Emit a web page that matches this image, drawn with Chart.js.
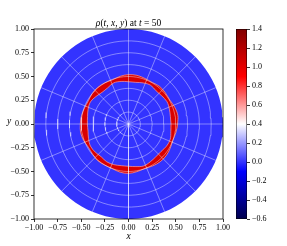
<!DOCTYPE html>
<html>
<head>
<meta charset="utf-8">
<script src="https://cdn.jsdelivr.net/npm/chart.js@4"></script>
<style>
  html, body { margin: 0; padding: 0; background: #fff; }
  #wrap { position: relative; width: 287px; height: 246px; }
  canvas { position: absolute; top: 0; }
  #main { left: 0; }
  #cbar { left: 230px; }
</style>
</head>
<body>
<div id="wrap">
  <canvas id="main" width="287" height="246"></canvas>
  <canvas id="cbar" width="57" height="246"></canvas>
</div>
<script>
// tick labels
const axisTicks = [-1, -0.75, -0.5, -0.25, 0, 0.25, 0.5, 0.75, 1];
const colorbarTicks = [-0.6, -0.4, -0.2, 0, 0.2, 0.4, 0.6, 0.8, 1.0, 1.2, 1.4];
// seismic colormap, value -> colour
const colorStops = [[-0.6, [0, 0, 76]], [-0.1, [0, 0, 255]], [0.4, [255, 255, 255]], [0.9, [255, 0, 0]], [1.4, [128, 0, 0]]];

// density field: background of the disk and the wavy ring
const diskRadius = 1;
const diskValue = 0.0;
const ringValue = 1.05;
const ringEdgeValue = 0.6;
const ringAngles = [0, 10, 20, 30, 40, 50, 60, 70, 80, 90, 100, 110, 120, 130, 140, 150, 160, 170,
                    180, 190, 200, 210, 220, 230, 240, 250, 260, 270, 280, 290, 300, 310, 320, 330, 340, 350];
const ringOuter = [0.52, 0.53, 0.52, 0.505, 0.51, 0.515, 0.505, 0.51, 0.52, 0.52, 0.51, 0.495, 0.50, 0.505, 0.50, 0.49, 0.495, 0.505,
                   0.51, 0.515, 0.505, 0.49, 0.495, 0.505, 0.50, 0.50, 0.515, 0.52, 0.51, 0.50, 0.51, 0.52, 0.52, 0.51, 0.50, 0.51];
const ringInner = [0.45, 0.45, 0.46, 0.47, 0.46, 0.455, 0.47, 0.46, 0.445, 0.445, 0.455, 0.46, 0.44, 0.435, 0.45, 0.465, 0.455, 0.44,
                   0.435, 0.435, 0.45, 0.465, 0.46, 0.45, 0.46, 0.455, 0.445, 0.445, 0.455, 0.47, 0.46, 0.45, 0.45, 0.465, 0.47, 0.455];

// polar mesh overlay
const gridRadii = [0.125, 0.25, 0.375, 0.5, 0.625, 0.75, 0.875];
const spokeAngles = [0, 22.5, 45, 67.5, 90, 112.5, 135, 157.5, 180, 202.5, 225, 247.5, 270, 292.5, 315, 337.5];

const serif = "'Liberation Serif', 'DejaVu Serif', serif";
const gridColor = 'rgba(255,255,255,0.5)';

function cmap(v) {
  for (let i = 0; i < colorStops.length - 1; i++) {
    const [v0, c0] = colorStops[i], [v1, c1] = colorStops[i + 1];
    if (v <= v1 || i === colorStops.length - 2) {
      const t = Math.min(1, Math.max(0, (v - v0) / (v1 - v0)));
      const c = c0.map((a, k) => Math.round(a + (c1[k] - a) * t));
      return `rgb(${c[0]},${c[1]},${c[2]})`;
    }
  }
}

function fmt(v, d) {
  if (Math.abs(v) < 1e-9) v = 0;
  return v.toFixed(d).replace('-', '\u2212');
}

const rad = a => a * Math.PI / 180;
function circlePts(r) {
  const pts = [];
  for (let a = 0; a <= 360; a += 4) pts.push({ x: r * Math.cos(rad(a)), y: r * Math.sin(rad(a)) });
  return pts;
}
function curvePts(radii) {
  const pts = ringAngles.map((a, i) => ({ x: radii[i] * Math.cos(rad(a)), y: radii[i] * Math.sin(rad(a)) }));
  pts.push(pts[0]);
  return pts;
}

const datasets = [];
// grid on top
gridRadii.forEach(r => datasets.push({ data: circlePts(r), borderColor: gridColor, borderWidth: 0.8 }));
spokeAngles.forEach(a => datasets.push({
  data: [{ x: 0, y: 0 }, { x: diskRadius * Math.cos(rad(a)), y: diskRadius * Math.sin(rad(a)) }],
  borderColor: gridColor, borderWidth: 0.8, tension: 0
}));
// ring edges
datasets.push({ data: curvePts(ringOuter), borderColor: cmap(ringEdgeValue), borderWidth: 0.7, tension: 0.35 });
datasets.push({ data: curvePts(ringInner), borderColor: cmap(ringEdgeValue), borderWidth: 0.7, tension: 0.35 });
// ring body
const outerPts = curvePts(ringOuter);
const innerPts = curvePts(ringInner).reverse();
datasets.push({ data: outerPts.concat(innerPts), borderWidth: 0, fill: 'shape', backgroundColor: cmap(ringValue), tension: 0.35 });
// disk
datasets.push({ data: circlePts(diskRadius), borderWidth: 0, fill: 'shape', backgroundColor: cmap(diskValue) });

datasets.forEach(d => { d.showLine = true; d.pointRadius = 0; if (d.tension === undefined) d.tension = 0; });

const framePlugin = {
  id: 'frame',
  afterDraw(chart) {
    const { ctx, chartArea: a } = chart;
    ctx.save();
    ctx.strokeStyle = '#000';
    ctx.lineWidth = 0.8;
    ctx.strokeRect(a.left, a.top, a.right - a.left, a.bottom - a.top);
    ctx.fillStyle = '#000';
    // title with italic math parts
    const parts = [['\u03c1', 1], ['(', 0], ['t', 1], [', ', 0], ['x', 1], [', ', 0], ['y', 1], [')', 0], [' at ', 0], ['t', 1], [' = 50', 0]];
    const font = it => (it ? 'italic ' : '') + '9.5px ' + serif;
    let w = 0;
    parts.forEach(([s, it]) => { ctx.font = font(it); w += ctx.measureText(s).width; });
    let x = (a.left + a.right) / 2 - w / 2;
    ctx.textBaseline = 'alphabetic';
    parts.forEach(([s, it]) => { ctx.font = font(it); ctx.fillText(s, x, 26); x += ctx.measureText(s).width; });
    // axis labels
    ctx.font = 'italic 9.5px ' + serif;
    ctx.textAlign = 'center';
    ctx.textBaseline = 'middle';
    ctx.fillText('x', (a.left + a.right) / 2, 236);
    ctx.fillText('y', 9, 121);
    ctx.restore();
  }
};

const tickFont = { family: serif, size: 8 };

new Chart(document.getElementById('main'), {
  type: 'scatter',
  data: { datasets },
  options: {
    responsive: false,
    animation: false,
    layout: { padding: { left: 0, top: 29, right: 64, bottom: 0 } },
    plugins: { legend: { display: false }, tooltip: { enabled: false } },
    scales: {
      x: {
        min: -1, max: 1,
        afterBuildTicks: axis => { axis.ticks = axisTicks.map(v => ({ value: v })); },
        afterFit: axis => { axis.height = 27; },
        ticks: { font: tickFont, color: '#000', padding: 1, maxRotation: 0, autoSkip: false, callback: v => fmt(v, 2) },
        grid: { drawOnChartArea: false, tickLength: 3, color: '#000', lineWidth: 0.8 },
        border: { display: false }
      },
      y: {
        min: -1, max: 1,
        afterBuildTicks: axis => { axis.ticks = axisTicks.map(v => ({ value: v })); },
        afterFit: axis => { axis.width = 34; },
        ticks: { font: tickFont, color: '#000', padding: 2, autoSkip: false, callback: v => fmt(v, 2) },
        grid: { drawOnChartArea: false, tickLength: 3, color: '#000', lineWidth: 0.8 },
        border: { display: false }
      }
    }
  },
  plugins: [framePlugin]
});

// colorbar
function cbarGradient(context) {
  const { ctx, chartArea } = context.chart;
  if (!chartArea) return null;
  const lo = colorbarTicks[0], hi = colorbarTicks[colorbarTicks.length - 1];
  const g = ctx.createLinearGradient(0, chartArea.bottom, 0, chartArea.top);
  colorStops.forEach(([v]) => g.addColorStop((v - lo) / (hi - lo), cmap(v)));
  return g;
}

new Chart(document.getElementById('cbar'), {
  type: 'bar',
  data: {
    labels: [''],
    datasets: [{
      data: [[colorbarTicks[0], colorbarTicks[colorbarTicks.length - 1]]],
      backgroundColor: cbarGradient,
      borderColor: '#000', borderWidth: 0.8, borderSkipped: false,
      barPercentage: 1, categoryPercentage: 1
    }]
  },
  options: {
    responsive: false,
    animation: false,
    layout: { padding: { left: 6, top: 29, bottom: 27, right: 0 } },
    plugins: { legend: { display: false }, tooltip: { enabled: false } },
    scales: {
      x: { display: false },
      y: {
        position: 'right',
        min: colorbarTicks[0], max: colorbarTicks[colorbarTicks.length - 1],
        afterBuildTicks: axis => { axis.ticks = colorbarTicks.map(v => ({ value: v })); },
        afterFit: axis => { axis.width = 40; },
        ticks: { font: tickFont, color: '#000', padding: 2, autoSkip: false, callback: v => fmt(v, 1) },
        grid: { drawOnChartArea: false, tickLength: 3, color: '#000', lineWidth: 0.8 },
        border: { display: false }
      }
    }
  }
});
</script>
</body>
</html>
